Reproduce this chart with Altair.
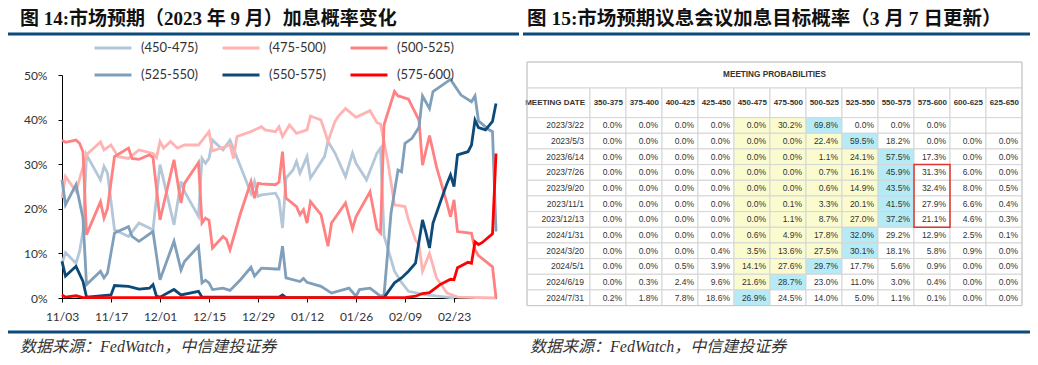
import json
import altair as alt
import pandas as pd

# ---------------- data: left line chart ----------------
START = "2022-11-03"
END = "2023-03-07"
series_names = ["(450-475)", "(475-500)", "(500-525)", "(525-550)", "(550-575)", "(575-600)"]
series_colors = ["#b3c7d9", "#ffb3b3", "#ff8181", "#7f9fbb", "#0d4a78", "#ff0000"]

s450 = [("2022-11-03", 7.8), ("2022-11-04", 10.2), ("2022-11-07", 7.8), ("2022-11-08", 10.4), ("2022-11-09", 14.9),
        ("2022-11-10", 32.1), ("2022-11-14", 26.5), ("2022-11-15", 29.5), ("2022-11-16", 28.0), ("2022-11-18", 15.3),
        ("2022-11-22", 13.8), ("2022-11-25", 16.8), ("2022-11-29", 15.3), ("2022-12-01", 29.9), ("2022-12-05", 16.4),
        ("2022-12-07", 26.1), ("2022-12-08", 23.9), ("2022-12-12", 18.3), ("2022-12-13", 31.3), ("2022-12-14", 30.2),
        ("2022-12-15", 31.3), ("2022-12-16", 35.4), ("2022-12-19", 33.2), ("2022-12-21", 35.4), ("2022-12-24", 29.5),
        ("2022-12-27", 23.5), ("2022-12-28", 26.1), ("2022-12-29", 22.8), ("2022-12-30", 23.1), ("2023-01-03", 23.5),
        ("2023-01-04", 22.0), ("2023-01-05", 15.7), ("2023-01-06", 26.9), ("2023-01-08", 28.7), ("2023-01-09", 30.6),
        ("2023-01-10", 28.0), ("2023-01-12", 31.7), ("2023-01-13", 26.9), ("2023-01-17", 31.7), ("2023-01-18", 35.1),
        ("2023-01-20", 32.5), ("2023-01-23", 27.2), ("2023-01-25", 32.5), ("2023-01-26", 30.2), ("2023-01-29", 26.5),
        ("2023-02-01", 32.5), ("2023-02-02", 33.6), ("2023-02-03", 14.0), ("2023-02-06", 6.0), ("2023-02-08", 3.5),
        ("2023-02-10", 1.5), ("2023-02-15", 0.7), ("2023-02-21", 0.2), ("2023-02-23", 0.0)]

s475 = [("2022-11-03", 22.4), ("2022-11-04", 27.2), ("2022-11-07", 23.9), ("2022-11-10", 32.1), ("2022-11-14", 35.0),
        ("2022-11-15", 33.2), ("2022-11-17", 34.3), ("2022-11-19", 31.7), ("2022-11-22", 31.3), ("2022-11-25", 33.2),
        ("2022-11-29", 32.4), ("2022-11-30", 31.5), ("2022-12-01", 35.1), ("2022-12-02", 33.6), ("2022-12-04", 35.1),
        ("2022-12-06", 33.6), ("2022-12-08", 34.3), ("2022-12-12", 34.3), ("2022-12-15", 37.3), ("2022-12-16", 33.0),
        ("2022-12-21", 34.3), ("2022-12-22", 31.3), ("2022-12-23", 36.2), ("2022-12-27", 37.3), ("2022-12-30", 38.4),
        ("2022-12-31", 37.7), ("2023-01-03", 37.3), ("2023-01-04", 38.4), ("2023-01-05", 36.2), ("2023-01-07", 38.8),
        ("2023-01-09", 36.9), ("2023-01-12", 37.7), ("2023-01-13", 40.8), ("2023-01-16", 39.9), ("2023-01-18", 35.1),
        ("2023-01-20", 39.6), ("2023-01-21", 40.8), ("2023-01-23", 42.5), ("2023-01-26", 40.5), ("2023-01-30", 42.0),
        ("2023-02-01", 39.3), ("2023-02-02", 39.0), ("2023-02-04", 31.0), ("2023-02-06", 20.9), ("2023-02-09", 20.5),
        ("2023-02-10", 17.5), ("2023-02-12", 13.0), ("2023-02-13", 11.9), ("2023-02-14", 6.0), ("2023-02-16", 10.0),
        ("2023-02-18", 4.5), ("2023-02-21", 1.1), ("2023-02-24", 0.2), ("2023-03-07", 0.0)]

s500 = [("2022-11-03", 35.4), ("2022-11-04", 34.9), ("2022-11-07", 35.4), ("2022-11-08", 34.7), ("2022-11-09", 32.8),
        ("2022-11-10", 14.2), ("2022-11-14", 21.6), ("2022-11-15", 17.9), ("2022-11-16", 20.1), ("2022-11-18", 31.7),
        ("2022-11-22", 33.6), ("2022-11-23", 31.3), ("2022-11-25", 31.1), ("2022-11-28", 32.1), ("2022-11-29", 31.5),
        ("2022-12-01", 17.5), ("2022-12-05", 31.0), ("2022-12-07", 21.3), ("2022-12-08", 25.7), ("2022-12-12", 30.4),
        ("2022-12-13", 16.8), ("2022-12-14", 17.9), ("2022-12-15", 17.4), ("2022-12-16", 11.2), ("2022-12-19", 13.8),
        ("2022-12-20", 13.1), ("2022-12-21", 10.8), ("2022-12-24", 19.0), ("2022-12-27", 26.1), ("2022-12-28", 22.4),
        ("2022-12-29", 25.7), ("2022-12-30", 25.6), ("2023-01-03", 25.4), ("2023-01-04", 26.0), ("2023-01-05", 32.8),
        ("2023-01-06", 22.4), ("2023-01-09", 20.5), ("2023-01-10", 18.7), ("2023-01-11", 19.8), ("2023-01-12", 16.8),
        ("2023-01-13", 21.6), ("2023-01-16", 18.7), ("2023-01-18", 11.6), ("2023-01-19", 16.8), ("2023-01-23", 21.3),
        ("2023-01-25", 15.5), ("2023-01-26", 18.2), ("2023-01-30", 23.8), ("2023-02-01", 15.5), ("2023-02-02", 14.6),
        ("2023-02-03", 38.8), ("2023-02-06", 46.3), ("2023-02-07", 45.3), ("2023-02-08", 45.1), ("2023-02-10", 44.6),
        ("2023-02-13", 39.9), ("2023-02-14", 29.8), ("2023-02-16", 36.4), ("2023-02-18", 29.4), ("2023-02-21", 21.2),
        ("2023-02-22", 18.2), ("2023-02-23", 22.0), ("2023-02-24", 14.9), ("2023-02-28", 14.5), ("2023-03-01", 10.8),
        ("2023-03-02", 9.5), ("2023-03-06", 7.0), ("2023-03-07", 0.0)]

s525 = [("2022-11-03", 26.5), ("2022-11-04", 20.9), ("2022-11-07", 25.4), ("2022-11-09", 17.9), ("2022-11-10", 3.0),
        ("2022-11-14", 6.0), ("2022-11-15", 4.5), ("2022-11-16", 5.6), ("2022-11-18", 14.6), ("2022-11-22", 16.0),
        ("2022-11-23", 13.8), ("2022-11-25", 12.7), ("2022-11-29", 14.9), ("2022-12-01", 4.1), ("2022-12-05", 12.7),
        ("2022-12-07", 6.3), ("2022-12-08", 8.2), ("2022-12-12", 11.6), ("2022-12-13", 3.4), ("2022-12-14", 4.0),
        ("2022-12-15", 3.4), ("2022-12-16", 1.9), ("2022-12-19", 2.2), ("2022-12-21", 1.7), ("2022-12-24", 4.1),
        ("2022-12-27", 6.9), ("2022-12-28", 4.9), ("2022-12-30", 6.7), ("2023-01-03", 6.5), ("2023-01-04", 6.5),
        ("2023-01-05", 11.6), ("2023-01-06", 4.5), ("2023-01-10", 3.7), ("2023-01-11", 4.4), ("2023-01-12", 3.5),
        ("2023-01-16", 2.6), ("2023-01-19", 1.1), ("2023-01-24", 2.2), ("2023-01-26", 0.4), ("2023-01-27", 1.9),
        ("2023-01-30", 2.2), ("2023-02-02", 0.4), ("2023-02-03", 0.6), ("2023-02-05", 19.0), ("2023-02-07", 28.7),
        ("2023-02-08", 28.3), ("2023-02-09", 34.7), ("2023-02-11", 35.8), ("2023-02-13", 38.3), ("2023-02-14", 45.3),
        ("2023-02-16", 42.5), ("2023-02-17", 46.3), ("2023-02-22", 49.0), ("2023-02-25", 45.5), ("2023-02-28", 44.0),
        ("2023-03-01", 45.3), ("2023-03-02", 39.7), ("2023-03-05", 37.7), ("2023-03-06", 37.3), ("2023-03-07", 14.9)]

s550 = [("2022-11-03", 8.2), ("2022-11-04", 4.9), ("2022-11-07", 7.1), ("2022-11-09", 3.7), ("2022-11-10", 0.2),
        ("2022-11-14", 0.5), ("2022-11-17", 0.7), ("2022-11-18", 2.8), ("2022-11-22", 2.6), ("2022-11-25", 2.0),
        ("2022-11-28", 2.2), ("2022-11-29", 3.0), ("2022-11-30", 0.4), ("2022-12-01", 0.2), ("2022-12-05", 1.9),
        ("2022-12-07", 0.7), ("2022-12-12", 1.5), ("2022-12-13", 0.2), ("2023-01-04", 0.2), ("2023-01-05", 0.7),
        ("2023-01-06", 0.1), ("2023-02-03", 0.1), ("2023-02-06", 3.4), ("2023-02-08", 4.5), ("2023-02-10", 6.0),
        ("2023-02-12", 7.8), ("2023-02-14", 17.5), ("2023-02-15", 14.6), ("2023-02-16", 11.2), ("2023-02-17", 16.8),
        ("2023-02-19", 21.3), ("2023-02-21", 25.7), ("2023-02-22", 27.6), ("2023-02-23", 25.0), ("2023-02-24", 32.1),
        ("2023-02-27", 32.8), ("2023-02-28", 34.3), ("2023-03-01", 39.9), ("2023-03-02", 38.2), ("2023-03-04", 37.7),
        ("2023-03-06", 39.6), ("2023-03-07", 43.6)]

s575 = [("2022-11-03", 0.7), ("2022-11-04", 0.2), ("2022-11-07", 0.5), ("2022-11-09", 0.1), ("2023-02-09", 0.1),
        ("2023-02-12", 0.4), ("2023-02-14", 1.0), ("2023-02-16", 1.2), ("2023-02-19", 3.0), ("2023-02-22", 4.2),
        ("2023-02-23", 4.1), ("2023-02-24", 6.8), ("2023-02-27", 8.0), ("2023-02-28", 7.8), ("2023-03-01", 12.6),
        ("2023-03-02", 12.0), ("2023-03-03", 12.4), ("2023-03-06", 14.4), ("2023-03-07", 32.4)]

tick_dates = ["2022-11-03", "2022-11-17", "2022-12-01", "2022-12-15", "2022-12-29",
              "2023-01-12", "2023-01-26", "2023-02-09", "2023-02-23"]
y_ticks = [0, 10, 20, 30, 40, 50]

# ---------------- data: right table ----------------
meeting_dates = ["2023/3/22", "2023/5/3", "2023/6/14", "2023/7/26", "2023/9/20", "2023/11/1",
                 "2023/12/13", "2024/1/31", "2024/3/20", "2024/5/1", "2024/6/19", "2024/7/31"]
rate_ranges = ["350-375", "375-400", "400-425", "425-450", "450-475", "475-500",
               "500-525", "525-550", "550-575", "575-600", "600-625", "625-650"]
p_2023_03_22 = [0.0, 0.0, 0.0, 0.0, 0.0, 30.2, 69.8, 0.0, 0.0, 0.0, None, None]
p_2023_05_03 = [0.0, 0.0, 0.0, 0.0, 0.0, 0.0, 22.4, 59.5, 18.2, 0.0, 0.0, 0.0]
p_2023_06_14 = [0.0, 0.0, 0.0, 0.0, 0.0, 0.0, 1.1, 24.1, 57.5, 17.3, 0.0, 0.0]
p_2023_07_26 = [0.0, 0.0, 0.0, 0.0, 0.0, 0.0, 0.7, 16.1, 45.9, 31.3, 6.0, 0.0]
p_2023_09_20 = [0.0, 0.0, 0.0, 0.0, 0.0, 0.0, 0.6, 14.9, 43.5, 32.4, 8.0, 0.5]
p_2023_11_01 = [0.0, 0.0, 0.0, 0.0, 0.0, 0.1, 3.3, 20.1, 41.5, 27.9, 6.6, 0.4]
p_2023_12_13 = [0.0, 0.0, 0.0, 0.0, 0.0, 1.1, 8.7, 27.0, 37.2, 21.1, 4.6, 0.3]
p_2024_01_31 = [0.0, 0.0, 0.0, 0.0, 0.6, 4.9, 17.8, 32.0, 29.2, 12.9, 2.5, 0.1]
p_2024_03_20 = [0.0, 0.0, 0.0, 0.4, 3.5, 13.6, 27.5, 30.1, 18.1, 5.8, 0.9, 0.0]
p_2024_05_01 = [0.0, 0.0, 0.5, 3.9, 14.1, 27.6, 29.7, 17.7, 5.6, 0.9, 0.0, 0.0]
p_2024_06_19 = [0.0, 0.3, 2.4, 9.6, 21.6, 28.7, 23.0, 11.0, 3.0, 0.4, 0.0, 0.0]
p_2024_07_31 = [0.2, 1.8, 7.8, 18.6, 26.9, 24.5, 14.0, 5.0, 1.1, 0.1, 0.0, 0.0]
prob_rows = [p_2023_03_22, p_2023_05_03, p_2023_06_14, p_2023_07_26, p_2023_09_20, p_2023_11_01,
             p_2023_12_13, p_2024_01_31, p_2024_03_20, p_2024_05_01, p_2024_06_19, p_2024_07_31]
current_range = "450-475"
boxed_range = "575-600"
boxed_rows = ("2023/7/26", "2023/12/13")

title_left = "图 14:市场预期（2023 年 9 月）加息概率变化"
title_right = "图 15:市场预期议息会议加息目标概率（3 月 7 日更新）"
source_text = "数据来源：FedWatch，中信建投证券"

# ---------------- layout (plot-area pixel coordinates) ----------------
W, H = 434, 223
PAD = {"left": 54, "top": 67, "right": 534, "bottom": 59}
NAVY = "#0b4a7a"
TITLE_FONT = "Liberation Serif, Noto Sans CJK SC"
TAB_FONT = "Liberation Sans"
GRID = "#d5d5d5"
YELLOW = "#fbfbd0"
CYAN = "#b5ebf7"
T_LEFT, T_DATE, T_RIGHT = 465, 528, 960
T_TOP, T_HEAD, T_BODY, T_BOTTOM = -13, 13, 42.6, 230.6

# ---------------- build line data ----------------
start = pd.Timestamp(START)
end_day = (pd.Timestamp(END) - start).days
recs = []
for name, pts in zip(series_names, [s450, s475, s500, s525, s550, s575]):
    for d, v in pts:
        recs.append({"series": name, "day": (pd.Timestamp(d) - start).days, "value": v})
line_df = pd.DataFrame(recs)
tick_days = [(pd.Timestamp(d) - start).days for d in tick_dates]
tick_text = [pd.Timestamp(d).strftime("%m/%d") for d in tick_dates]
x_label_expr = f"{json.dumps(tick_text)}[indexof({json.dumps(tick_days)}, datum.value)]"

lines = alt.Chart(line_df).mark_line(strokeWidth=2.8, clip=False).encode(
    x=alt.X("day:Q", scale=alt.Scale(domain=[0, end_day], nice=False, zero=False),
            axis=alt.Axis(values=tick_days, labelExpr=x_label_expr, title=None, grid=False,
                          domainColor="#000000", tickColor="#000000", tickSize=4,
                          labelFont="Lato", labelFontSize=12, labelColor="#333333",
                          labelPadding=9, labelFlush=False, labelOverlap=False)),
    y=alt.Y("value:Q", scale=alt.Scale(domain=[0, 50], nice=False),
            axis=alt.Axis(values=y_ticks, labelExpr="datum.value + '%'", title=None, grid=False,
                          domainColor="#000000", tickColor="#000000", tickSize=4,
                          labelFont="Lato", labelFontSize=12, labelColor="#333333",
                          labelPadding=11, labelFlush=False)),
    color=alt.Color("series:N", sort=series_names,
                    scale=alt.Scale(domain=series_names, range=series_colors),
                    legend=alt.Legend(orient="none", legendX=31, legendY=-47, direction="horizontal",
                                      columns=3, title=None, symbolType="stroke", symbolSize=1369,
                                      symbolStrokeWidth=3, labelFont="Lato", labelFontSize=13,
                                      labelColor="#333333", labelOffset=8, columnPadding=17,
                                      rowPadding=-8, padding=0)),
)

# ---------------- build table data ----------------
cur_idx = rate_ranges.index(current_range)
cells = []
for r, vals in zip(meeting_dates, prob_rows):
    present = [v for v in vals if v is not None]
    m = vals.index(max(present))
    for j, (c, v) in enumerate(zip(rate_ranges, vals)):
        bg = CYAN if j == m else (YELLOW if cur_idx <= j < m else "#ffffff")
        cells.append({"row": r, "col": c, "label": "" if v is None else f"{v:.1f}%", "bg": bg})
cell_df = pd.DataFrame(cells)
row_df = pd.DataFrame({"row": meeting_dates})
col_df = pd.DataFrame({"col": rate_ranges})
box_df = pd.DataFrame([{"col": boxed_range, "r0": boxed_rows[0], "r1": boxed_rows[1]}])

col_scale = alt.Scale(domain=rate_ranges, range=[T_DATE, T_RIGHT], paddingInner=0, paddingOuter=0)
row_scale = alt.Scale(domain=meeting_dates, range=[T_BODY, T_BOTTOM], paddingInner=0, paddingOuter=0)
one = alt.Data(values=[{}])

title_row = alt.Chart(one).mark_rect(fill="#ffffff", stroke=GRID, strokeWidth=1).encode(
    x=alt.value(T_LEFT), x2=alt.value(T_RIGHT), y=alt.value(T_TOP), y2=alt.value(T_HEAD))
title_txt = alt.Chart(one).mark_text(text="MEETING PROBABILITIES", font=TAB_FONT, fontSize=8.2,
                                     fontWeight="bold", color="#333333", align="center", baseline="middle").encode(
    x=alt.value((T_LEFT + T_RIGHT) / 2), y=alt.value((T_TOP + T_HEAD) / 2))
date_head_rect = alt.Chart(one).mark_rect(fill="#ffffff", stroke=GRID, strokeWidth=1).encode(
    x=alt.value(T_LEFT), x2=alt.value(T_DATE), y=alt.value(T_HEAD), y2=alt.value(T_BODY))
date_head_txt = alt.Chart(one).mark_text(text="MEETING DATE", font=TAB_FONT, fontSize=8, fontWeight="bold",
                                         color="#333333", align="right", baseline="middle").encode(
    x=alt.value(T_DATE - 5), y=alt.value((T_HEAD + T_BODY) / 2))
head_rect = alt.Chart(col_df).mark_rect(fill="#ffffff", stroke=GRID, strokeWidth=1).encode(
    x=alt.X("col:N", scale=col_scale, axis=None), y=alt.value(T_HEAD), y2=alt.value(T_BODY))
head_txt = alt.Chart(col_df).mark_text(font=TAB_FONT, fontSize=8, fontWeight="bold", color="#333333",
                                       align="right", baseline="middle", dx=-3).encode(
    x=alt.X("col:N", scale=col_scale, axis=None, bandPosition=1),
    y=alt.value((T_HEAD + T_BODY) / 2), text="col:N")
date_rect = alt.Chart(row_df).mark_rect(fill="#ffffff", stroke=GRID, strokeWidth=1).encode(
    x=alt.value(T_LEFT), x2=alt.value(T_DATE), y=alt.Y("row:N", scale=row_scale, axis=None))
date_txt = alt.Chart(row_df).mark_text(font=TAB_FONT, fontSize=8.5, color="#333333", align="right",
                                       baseline="middle").encode(
    x=alt.value(T_DATE - 6), y=alt.Y("row:N", scale=row_scale, axis=None), text="row:N")
cell_rect = alt.Chart(cell_df).mark_rect(stroke=GRID, strokeWidth=1).encode(
    x=alt.X("col:N", scale=col_scale, axis=None), y=alt.Y("row:N", scale=row_scale, axis=None),
    fill=alt.Fill("bg:N", scale=None))
cell_txt = alt.Chart(cell_df).mark_text(font=TAB_FONT, fontSize=8.5, color="#333333", align="right",
                                        baseline="middle", dx=-4).encode(
    x=alt.X("col:N", scale=col_scale, axis=None, bandPosition=1),
    y=alt.Y("row:N", scale=row_scale, axis=None), text="label:N")
red_box = alt.Chart(box_df).mark_rect(fillOpacity=0, stroke="#e0342c", strokeWidth=1.5).encode(
    x=alt.X("col:N", scale=col_scale, axis=None),
    y=alt.Y("r0:N", scale=row_scale, axis=None, bandPosition=0),
    y2=alt.Y2("r1:N", bandPosition=1))
frame = alt.Chart(one).mark_rect(fillOpacity=0, stroke="#c8c8c8", strokeWidth=1).encode(
    x=alt.value(T_LEFT), x2=alt.value(T_RIGHT), y=alt.value(T_TOP), y2=alt.value(T_BOTTOM))

table = alt.layer(title_row, title_txt, date_head_rect, date_head_txt, head_rect, head_txt,
                  date_rect, date_txt, cell_rect, cell_txt, red_box, frame)

# ---------------- titles, rules, sources ----------------
def text_at(txt, x, y, **kw):
    return alt.Chart(one).mark_text(text=txt, align="left", baseline="middle", **kw).encode(
        x=alt.value(x), y=alt.value(y))

def hrule(x1, x2, y, color, width):
    return alt.Chart(one).mark_rule(color=color, strokeWidth=width).encode(
        x=alt.value(x1), x2=alt.value(x2), y=alt.value(y))

decor = [
    text_at(title_left, -42, -56, font=TITLE_FONT, fontSize=19, fontWeight="bold", color="#111111"),
    text_at(title_right, 465, -56, font=TITLE_FONT, fontSize=19.5, fontWeight="bold", color="#111111"),
    hrule(-54, 457, -41, NAVY, 3),
    hrule(461, 968, -41, NAVY, 3),
    hrule(-54, 968, 257, NAVY, 3),
    text_at(source_text, -42, 272, font=TITLE_FONT, fontSize=16, fontStyle="italic", color="#333333"),
    text_at(source_text, 468, 272, font=TITLE_FONT, fontSize=16, fontStyle="italic", color="#333333"),
]

chart = alt.layer(lines, table, *decor).resolve_scale(
    x="independent", y="independent"
).properties(
    width=W, height=H, padding=PAD, autosize=alt.AutoSizeParams(type="none")
).configure_view(strokeWidth=0)

chart.save("out.html", embed_options={"renderer": "svg", "actions": False})
